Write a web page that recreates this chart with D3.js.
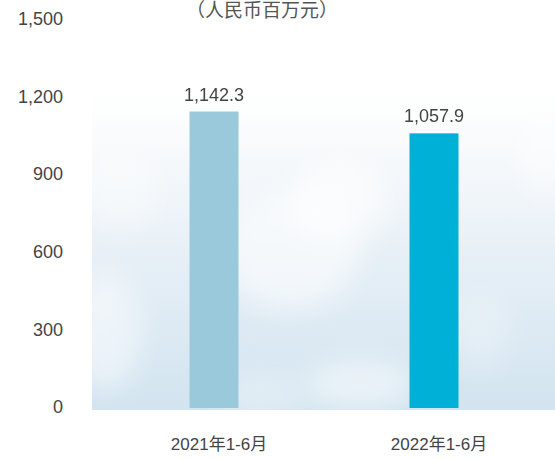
<!DOCTYPE html>
<html>
<head>
<meta charset="utf-8">
<script src="https://cdn.jsdelivr.net/npm/d3@7"></script>
<style>
html,body{margin:0;padding:0;background:#fff;}
svg{display:block;}
text{font-family:"Liberation Sans","Noto Sans CJK SC",sans-serif;}
</style>
</head>
<body>
<svg id="chart" width="555" height="460"></svg>
<script>
const categories = ["2021年1-6月", "2022年1-6月"];
const values = [1142.3, 1057.9];
const valueLabels = ["1,142.3", "1,057.9"];
const yTicks = [0, 300, 600, 900, 1200, 1500];
const barColors = ["#99c9da", "#00b0d7"];
const unitTitle = "（人民币百万元）";

const svg = d3.select("#chart");
const W = 555, H = 460;

const y = d3.scaleLinear().domain([0, 1500]).range([407, 19]);
const x = d3.scaleBand().domain(categories).range([104, 544]).paddingInner(0.0).paddingOuter(0);
const barW = 49;

// sky background
const defs = svg.append("defs");
const grad = defs.append("linearGradient").attr("id","sky").attr("x1",0).attr("y1",0).attr("x2",0).attr("y2",1);
grad.append("stop").attr("offset","0%").attr("stop-color","#ffffff");
grad.append("stop").attr("offset","20%").attr("stop-color","#f8fafc");
grad.append("stop").attr("offset","55%").attr("stop-color","#e6eff6");
grad.append("stop").attr("offset","100%").attr("stop-color","#d2e4f0");
const blur = defs.append("filter").attr("id","blur").attr("x","-50%").attr("y","-50%").attr("width","200%").attr("height","200%");
blur.append("feGaussianBlur").attr("stdDeviation",14);
const clip = defs.append("clipPath").attr("id","bgclip");
clip.append("rect").attr("x",92).attr("y",80).attr("width",W-92).attr("height",330);

const bg = svg.append("g").attr("clip-path","url(#bgclip)");
bg.append("rect").attr("x",92).attr("y",80).attr("width",W-92).attr("height",330).attr("fill","url(#sky)");
const fadeTop = defs.append("linearGradient").attr("id","fadeTop").attr("x1",0).attr("y1",0).attr("x2",0).attr("y2",1);
fadeTop.append("stop").attr("offset","0%").attr("stop-color","#fff").attr("stop-opacity",1);
fadeTop.append("stop").attr("offset","100%").attr("stop-color","#fff").attr("stop-opacity",0);
bg.append("rect").attr("x",92).attr("y",80).attr("width",W-92).attr("height",50).attr("fill","url(#fadeTop)");
// subtle clouds (decorative)
const clouds = [
  [105,330,35,60,0.5],[290,250,70,60,0.55],[340,200,50,40,0.6],
  [360,385,55,25,0.5],[260,395,45,20,0.35],[120,190,40,40,0.4],
  [545,150,25,50,0.45],[480,330,30,40,0.25]
];
bg.append("g").attr("filter","url(#blur)").selectAll("ellipse").data(clouds).join("ellipse")
  .attr("cx",d=>d[0]).attr("cy",d=>d[1]).attr("rx",d=>d[2]).attr("ry",d=>d[3])
  .attr("fill","#ffffff").attr("opacity",d=>d[4]);

// title
svg.append("text").attr("x",262).attr("y",17).attr("text-anchor","middle")
  .attr("font-size",19).attr("fill","#555").text(unitTitle);

// y axis labels
const yAxis = d3.axisLeft(y).tickValues(yTicks).tickSize(0).tickPadding(0)
  .tickFormat(d3.format(","));
const ga = svg.append("g").attr("transform","translate(63,0)").call(yAxis);
ga.select(".domain").remove();
ga.selectAll("text").attr("font-size",18).attr("fill","#444")
  .attr("font-family","'Liberation Sans',sans-serif");

// bars
const cx = i => x(categories[i]) + x.bandwidth()/2;
svg.append("g").selectAll("rect").data(values).join("rect")
  .attr("x",(d,i)=>cx(i)-barW/2)
  .attr("y",d=>y(d))
  .attr("width",barW)
  .attr("height",d=>y(0)-y(d)+1)
  .attr("fill",(d,i)=>barColors[i]);

// value labels
svg.append("g").selectAll("text").data(values).join("text")
  .attr("x",(d,i)=>cx(i))
  .attr("y",d=>y(d)-11)
  .attr("text-anchor","middle").attr("font-size",18).attr("fill","#444")
  .text((d,i)=>valueLabels[i]);

// x axis labels
const xAxis = d3.axisBottom(x).tickSize(0).tickPadding(0);
const gx = svg.append("g").attr("transform","translate(5,438)").call(xAxis);
gx.select(".domain").remove();
gx.selectAll("text").attr("font-size",17).attr("fill","#444").attr("dy","0.71em")
  .attr("font-family","'Liberation Sans','Noto Sans CJK SC',sans-serif");
</script>
</body>
</html>
